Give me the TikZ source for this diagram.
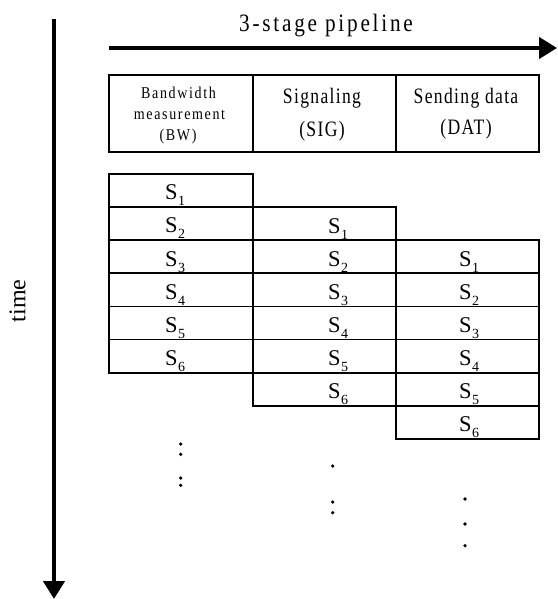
\documentclass[tikz,border=0pt]{standalone}
\usepackage{fontspec}
\setmainfont{Liberation Serif}
\newfontfamily\titlefont[FakeStretch=0.85,LetterSpace=11]{Liberation Serif}
\newfontfamily\hdfont[FakeStretch=0.8,LetterSpace=6]{Liberation Serif}
\newfontfamily\hdsmall[FakeStretch=0.85,LetterSpace=10]{Liberation Serif}
\usetikzlibrary{arrows.meta}
\newcommand\Ssub[1]{S\kern0.5pt\raisebox{-6pt}{\fontsize{14}{14}\selectfont #1}}
\begin{document}
\begin{tikzpicture}[x=1pt,y=-1pt,
  axis/.style={line width=4.3pt,-{Triangle[length=18pt,width=21pt]}},
  cellbox/.style={draw,line width=1.8pt},
  cell/.style={anchor=base west,inner sep=0pt,font=\fontsize{22.5}{22.5}\selectfont},
  hdbig/.style={anchor=base,inner sep=0pt,font=\hdfont\fontsize{22}{22}\selectfont},
  hdsm/.style={anchor=base,inner sep=0pt,font=\hdsmall\fontsize{16.5}{16.5}\selectfont},
  dot/.style={fill=black}]
\useasboundingbox (0,0) rectangle (557,599);

% axes
\coordinate (tstart) at (54,19);
\coordinate (tend) at (54,599);
\draw[axis] (tstart) -- (tend);
\node[rotate=90,inner sep=0pt,font=\fontsize{24}{24}\selectfont] (time) at (17.5,301) {time};

\coordinate (pstart) at (109,48);
\coordinate (pend) at (557,48);
\draw[axis] (pstart) -- (pend);
\node[anchor=base,inner sep=0pt,font=\titlefont\fontsize{25}{25}\selectfont] (title) at (326,32) {3-stage pipeline};

% header
\draw[cellbox] (109,75) rectangle (253,152);
\draw[cellbox] (253,75) rectangle (396,152);
\draw[cellbox] (396,75) rectangle (539,152);
\node[hdsm] (bw1) at (178.5,99) {Bandwidth};
\node[hdsm] (bw2) at (179.5,120) {measurement};
\node[hdsm] (bw3) at (178,140) {(BW)};
\node[hdbig] (sig1) at (322,104) {Signaling};
\node[hdbig] (sig2) at (322,136) {(SIG)};
\node[hdbig] (dat1) at (466,104) {Sending data};
\node[hdbig] (dat2) at (466,135) {(DAT)};

% cells
\foreach \k in {1,...,6} {
  \draw[cellbox] (109,{174+33.1*(\k-1)}) rectangle (253,{174+33.1*\k});
  \draw[cellbox] (253,{174+33.1*\k}) rectangle (396,{174+33.1*(\k+1)});
  \draw[cellbox] (396,{174+33.1*(\k+1)}) rectangle (539,{174+33.1*(\k+2)});
  \node[cell] (a\k) at (165,{174+33.1*\k-7.3}) {\Ssub{\k}};
  \node[cell] (b\k) at (328,{174+33.1*(\k+1)-7}) {\Ssub{\k}};
  \node[cell] (c\k) at (459,{174+33.1*(\k+2)-7}) {\Ssub{\k}};
}

% dots
\fill[dot] (180.7,444) circle[radius=1.8];
\fill[dot] (180.7,454.3) circle[radius=1.8];
\fill[dot] (180.7,478) circle[radius=1.8];
\fill[dot] (180.7,485.3) circle[radius=1.8];
\fill[dot] (332.7,466) circle[radius=1.8];
\fill[dot] (332.7,502) circle[radius=1.8];
\fill[dot] (332.7,512.7) circle[radius=1.8];
\fill[dot] (465,499) circle[radius=1.8];
\fill[dot] (465,524) circle[radius=1.8];
\fill[dot] (465,545.7) circle[radius=1.8];
\end{tikzpicture}
\end{document}
